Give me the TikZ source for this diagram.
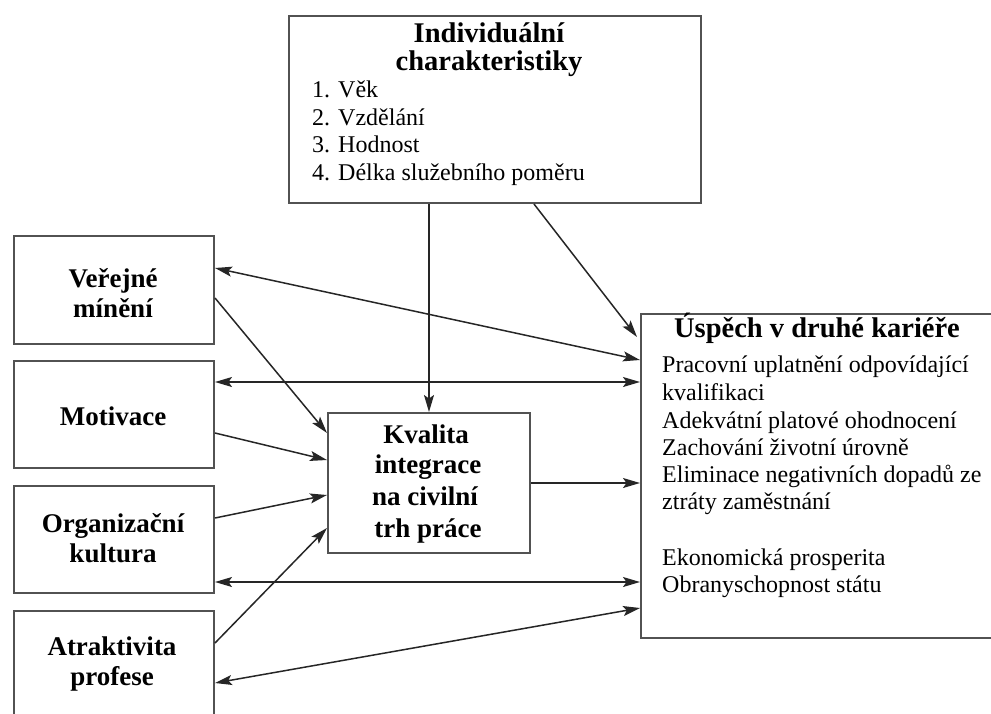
\documentclass[tikz,border=0pt]{standalone}
\usepackage{fontspec}
\setmainfont{Liberation Serif}
\usetikzlibrary{arrows.meta}
\newcommand\fbold{\fontsize{27}{30}\selectfont\bfseries}
\newcommand\fbig{\fontsize{28.5}{30}\selectfont\bfseries}
\newcommand\fbody{\fontsize{24}{27}\selectfont}
\tikzset{
  box/.style={draw=black!68, line width=2pt, fill=white, inner sep=0pt, anchor=north west},
  arr/.style={draw=black!85, line width=1.5pt, -{Stealth[length=17pt,width=10pt,inset=3.5pt]}},
  darr/.style={draw=black!85, line width=1.5pt, {Stealth[length=17pt,width=10pt,inset=3.5pt]}-{Stealth[length=17pt,width=10pt,inset=3.5pt]}},
  tb/.style={font=\fbold, inner sep=0pt, anchor=base},
  tbb/.style={font=\fbig, inner sep=0pt, anchor=base},
  tl/.style={font=\fbody, inner sep=0pt, anchor=base west},
}
\begin{document}
\begin{tikzpicture}[x=1pt,y=-1pt]
\useasboundingbox (0,0) rectangle (991,713);
% boxes
\node[box, minimum width=412, minimum height=187] (ic) at (288,15) {};
\node[box, minimum width=370, minimum height=324] (us) at (640,313) {};
\node[box, minimum width=200, minimum height=108] (vm) at (13,235) {};
\node[box, minimum width=200, minimum height=107] (mo) at (13,360) {};
\node[box, minimum width=200, minimum height=107] (ok) at (13,485) {};
\node[box, minimum width=200, minimum height=120] (ap) at (13,610) {};
\node[box, minimum width=202, minimum height=140] (kv) at (327,412) {};
% texts: top box
\node[tbb] (ic1) at (489,42) {Individuální};
\node[tbb] (ic2) at (489,70) {charakteristiky};
\node[tl] (ic3) at (312,97) {1. Věk};
\node[tl] (ic4) at (312,125) {2. Vzdělání};
\node[tl] (ic5) at (312,152) {3. Hodnost};
\node[tl] (ic6) at (312,180) {4. Délka služebního poměru};
% right box
\node[tbb] (us0) at (817,337) {Úspěch v druhé kariéře};
\node[tl] (us1) at (662,372) {Pracovní uplatnění odpovídající};
\node[tl] (us2) at (662,400) {kvalifikaci};
\node[tl] (us3) at (662,428) {Adekvátní platové ohodnocení};
\node[tl] (us4) at (662,455) {Zachování životní úrovně};
\node[tl] (us5) at (662,482) {Eliminace negativních dopadů ze};
\node[tl] (us6) at (662,509) {ztráty zaměstnání};
\node[tl] (us7) at (662,565) {Ekonomická prosperita};
\node[tl] (us8) at (662,592) {Obranyschopnost státu};
% left boxes
\node[tb] (vm1) at (113,287) {Veřejné};
\node[tb] (vm2) at (113,317) {mínění};
\node[tb] (mo1) at (113,425) {Motivace};
\node[tb] (ok1) at (113,532) {Organizační};
\node[tb] (ok2) at (113,562) {kultura};
\node[tb] (ap1) at (112,655) {Atraktivita};
\node[tb] (ap2) at (112,685) {profese};
% center box
\node[tb] (kv1) at (426,443) {Kvalita};
\node[tb] (kv2) at (428,473) {integrace};
\node[tb] (kv3) at (425,505) {na civilní};
\node[tb] (kv4) at (428,537) {trh práce};
% connectors
\draw[arr] (kv.north |- ic.south) -- (kv.north);
\draw[arr] ([xshift=39pt]ic.south) -- ([xshift=-3pt,yshift=-24pt]us.north west);
\draw[darr] ([yshift=-33pt]vm.north east) -- ([yshift=-47pt]us.north west);
\draw[arr] ([yshift=-63pt]vm.north east) -- ([yshift=-21pt]kv.north west);
\draw[darr] ([yshift=-22pt]mo.north east) -- ([yshift=-22pt]mo.north east -| us.west);
\draw[arr] ([yshift=-73pt]mo.north east) -- ([yshift=-48pt]kv.north west);
\draw[arr] ([yshift=-33pt]ok.north east) -- ([yshift=-83pt]kv.north west);
\draw[arr] ([yshift=-33pt]ap.north east) -- ([yshift=-116pt]kv.north west);
\draw[arr] (kv.east) -- (kv.east -| us.west);
\draw[darr] ([yshift=-97pt]ok.north east) -- ([yshift=-97pt]ok.north east -| us.west);
\draw[darr] ([yshift=-73pt]ap.north east) -- ([yshift=-295pt]us.north west);
\end{tikzpicture}
\end{document}
